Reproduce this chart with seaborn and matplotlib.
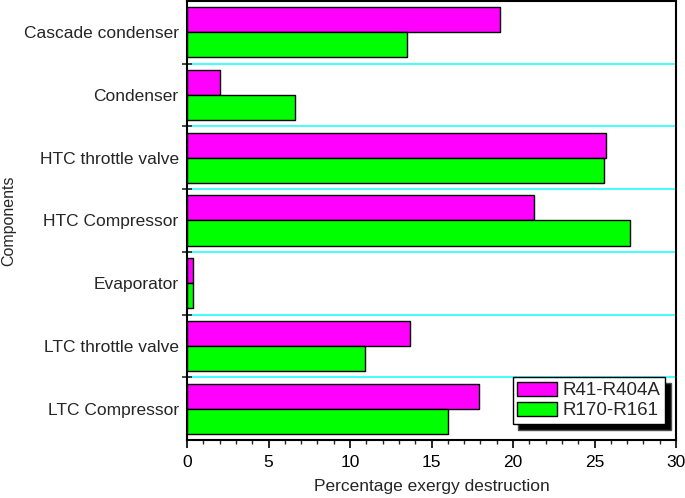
import matplotlib.pyplot as plt
import seaborn as sns
import pandas as pd
from matplotlib.ticker import MultipleLocator, FixedLocator

# data
components = ['Cascade condenser', 'Condenser', 'HTC throttle valve', 'HTC Compressor',
              'Evaporator', 'LTC throttle valve', 'LTC Compressor']
r41_r404a = [19.2, 2.0, 25.7, 21.3, 0.39, 13.7, 17.9]
r170_r161 = [13.5, 6.6, 25.6, 27.2, 0.35, 10.9, 16.0]
series = ['R41-R404A', 'R170-R161']

df = pd.DataFrame({
    'component': components * 2,
    'value': r41_r404a + r170_r161,
    'pair': [series[0]] * len(components) + [series[1]] * len(components),
})

sns.set_style('ticks')
plt.rcParams['font.family'] = ['Liberation Sans', 'DejaVu Sans']

fig = plt.figure(figsize=(6.85, 4.98), dpi=100)
ax = fig.add_axes([0.273, 0.1165, 0.714, 0.8815])

sns.barplot(data=df, y='component', x='value', hue='pair', order=components,
            hue_order=series, palette=['#ff00ff', '#00ff00'], orient='h',
            edgecolor='black', linewidth=1.0, saturation=1, width=0.8, ax=ax)

# cyan separators between components
for b in range(len(components) - 1):
    ax.axhline(b + 0.5, color='#33ffff', lw=1.3, zorder=0)

ax.set_xlim(0, 30)
ax.set_ylim(len(components) - 0.5, -0.5)
ax.xaxis.set_major_locator(MultipleLocator(5))
ax.xaxis.set_minor_locator(MultipleLocator(1))
ax.yaxis.set_minor_locator(FixedLocator([b + 0.5 for b in range(len(components) - 1)]))
ax.tick_params(axis='x', which='major', direction='out', length=6, width=1.2,
               labelsize=12.5, colors='black', pad=5)
ax.tick_params(axis='x', which='minor', direction='out', length=3, width=1.0)
ax.tick_params(axis='y', which='major', length=0, labelsize=12.5, pad=6)
ax.tick_params(axis='y', which='minor', direction='inout', length=7, width=1.2)

for s in ax.spines.values():
    s.set_visible(True)
    s.set_color('black')
    s.set_linewidth(1.5)

ax.set_xlabel('Percentage exergy destruction', fontsize=12.5, labelpad=6)
ax.set_ylabel('Components', fontsize=11.5, labelpad=5)

ax.legend(loc='lower right', bbox_to_anchor=(0.978, 0.036), fontsize=13.5,
          frameon=True, fancybox=False, framealpha=1, edgecolor='black',
          shadow={'facecolor': 'black', 'alpha': 1, 'ox': 4, 'oy': -4},
          handlelength=2.1, handleheight=0.75, handletextpad=0.32,
          borderpad=0.25, labelspacing=0.15, borderaxespad=0)
ax.get_legend().get_frame().set_linewidth(1.0)

fig.savefig('out.png', dpi=100)
